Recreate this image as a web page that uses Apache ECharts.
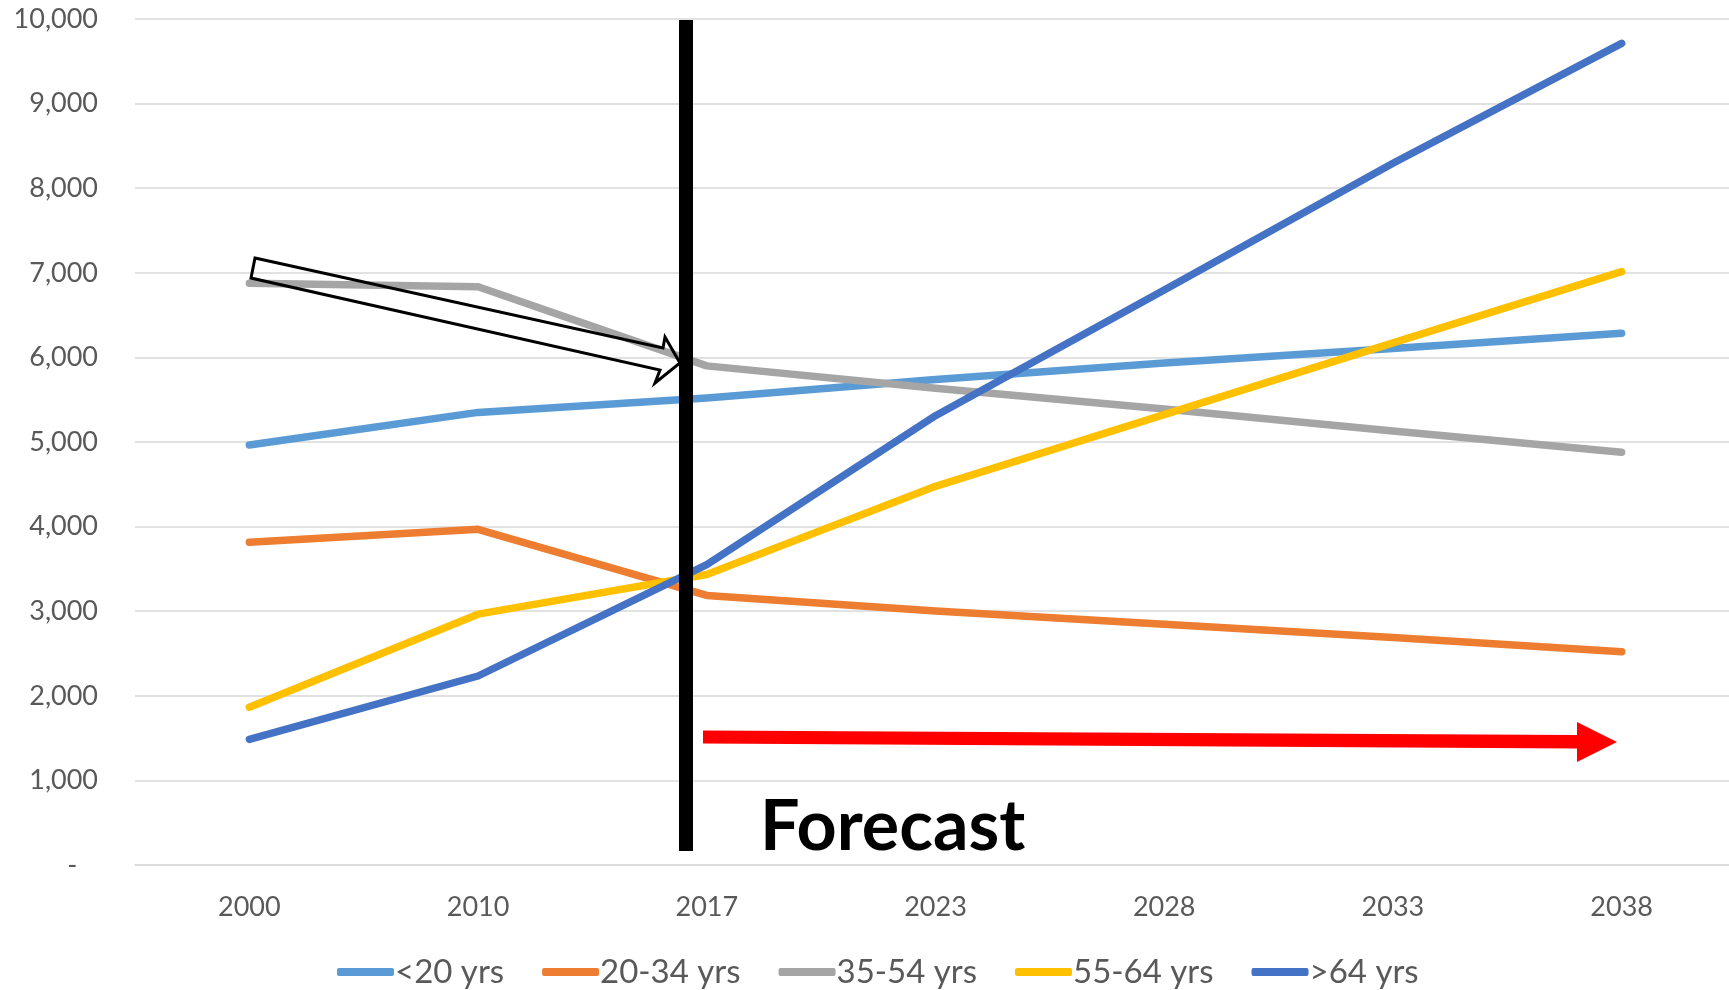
<!DOCTYPE html>
<html>
<head>
<meta charset="utf-8">
<script src="https://cdn.jsdelivr.net/npm/echarts@6/dist/echarts.min.js"></script>
<style>
html,body{margin:0;padding:0;background:#fff;}
#chart{width:1729px;height:990px;}
</style>
</head>
<body>
<div id="chart"></div>
<script>
// ---- data ----
const years = ['2000', '2010', '2017', '2023', '2028', '2033', '2038'];
const seriesNames = ['<20 yrs', '20-34 yrs', '35-54 yrs', '55-64 yrs', '>64 yrs'];
const under20 = [4965, 5350, 5520, 5740, 5935, 6105, 6285];
const age20to34 = [3815, 3968, 3186, 3003, 2847, 2690, 2521];
const age35to54 = [6876, 6836, 5900, 5636, 5390, 5130, 4880];
const age55to64 = [1864, 2965, 3434, 4476, 5324, 6171, 7013];
const over64 = [1485, 2234, 3551, 5311, 6797, 8295, 9712];
const yTicks = [0, 1000, 2000, 3000, 4000, 5000, 6000, 7000, 8000, 9000, 10000];
const annotationText = 'Forecast';

const colors = ['#5B9BD5', '#ED7D31', '#A5A5A5', '#FFC000', '#4472C4'];
const values = [under20, age20to34, age35to54, age55to64, over64];

const chart = echarts.init(document.getElementById('chart'), null, {renderer: 'canvas'});

const series = seriesNames.map((name, i) => ({
  name: name,
  type: 'line',
  data: values[i],
  showSymbol: false,
  symbol: 'none',
  color: colors[i],
  lineStyle: {width: 7.5, color: colors[i], cap: 'round', join: 'round'},
  emphasis: {disabled: true},
  z: 2 + i
}));

const option = {
  animation: false,
  backgroundColor: '#ffffff',
  grid: {left: 135, width: 1601, top: 19, bottom: 125, containLabel: false, outerBoundsMode: 'none'},
  xAxis: {
    type: 'category',
    data: years,
    boundaryGap: true,
    axisLine: {show: true, lineStyle: {color: '#D9D9D9', width: 1.5}},
    axisTick: {show: false},
    axisLabel: {color: '#595959', fontFamily: 'Lato', fontSize: 27, margin: 29}
  },
  yAxis: {
    type: 'value',
    min: yTicks[0],
    max: yTicks[yTicks.length - 1],
    interval: yTicks[1] - yTicks[0],
    axisLine: {show: false},
    axisTick: {show: false},
    splitLine: {show: true, lineStyle: {color: '#D9D9D9', width: 1.5}},
    axisLabel: {
      color: '#595959', fontFamily: 'Lato', fontSize: 27, margin: 37,
      formatter: v => v === 0 ? '-   ' : v.toLocaleString('en-US')
    }
  },
  legend: {
    data: seriesNames,
    left: 332,
    top: 948,
    icon: 'roundRect',
    itemWidth: 57,
    itemHeight: 8,
    itemGap: 38,
    textStyle: {color: '#595959', fontFamily: 'Lato', fontSize: 33, lineHeight: 38, padding: [0, 0, 0, -4]}
  },
  series: series,
  graphic: [
    {
      type: 'rect', z: 100,
      shape: {x: 679, y: 20, width: 14, height: 831},
      style: {fill: '#000000'}
    },
    {
      type: 'polygon', z: 100,
      shape: {points: [[703, 730.5], [1577, 735], [1577, 722], [1617, 742], [1577, 762], [1577, 748.5], [703, 743.5]]},
      style: {fill: '#FF0000'}
    },
    {
      type: 'polygon', z: 100,
      shape: {points: [[255, 258], [663, 348], [665, 337], [680, 363], [655, 383], [660, 370], [251, 278]]},
      style: {fill: 'none', stroke: '#000000', lineWidth: 3, lineJoin: 'miter'}
    },
    {
      type: 'text', z: 100,
      x: 760, y: 827,
      style: {
        text: annotationText,
        fill: '#000000',
        font: 'bold 70px Lato',
        textAlign: 'left',
        textVerticalAlign: 'middle'
      }
    }
  ]
};

chart.setOption(option);
</script>
</body>
</html>
